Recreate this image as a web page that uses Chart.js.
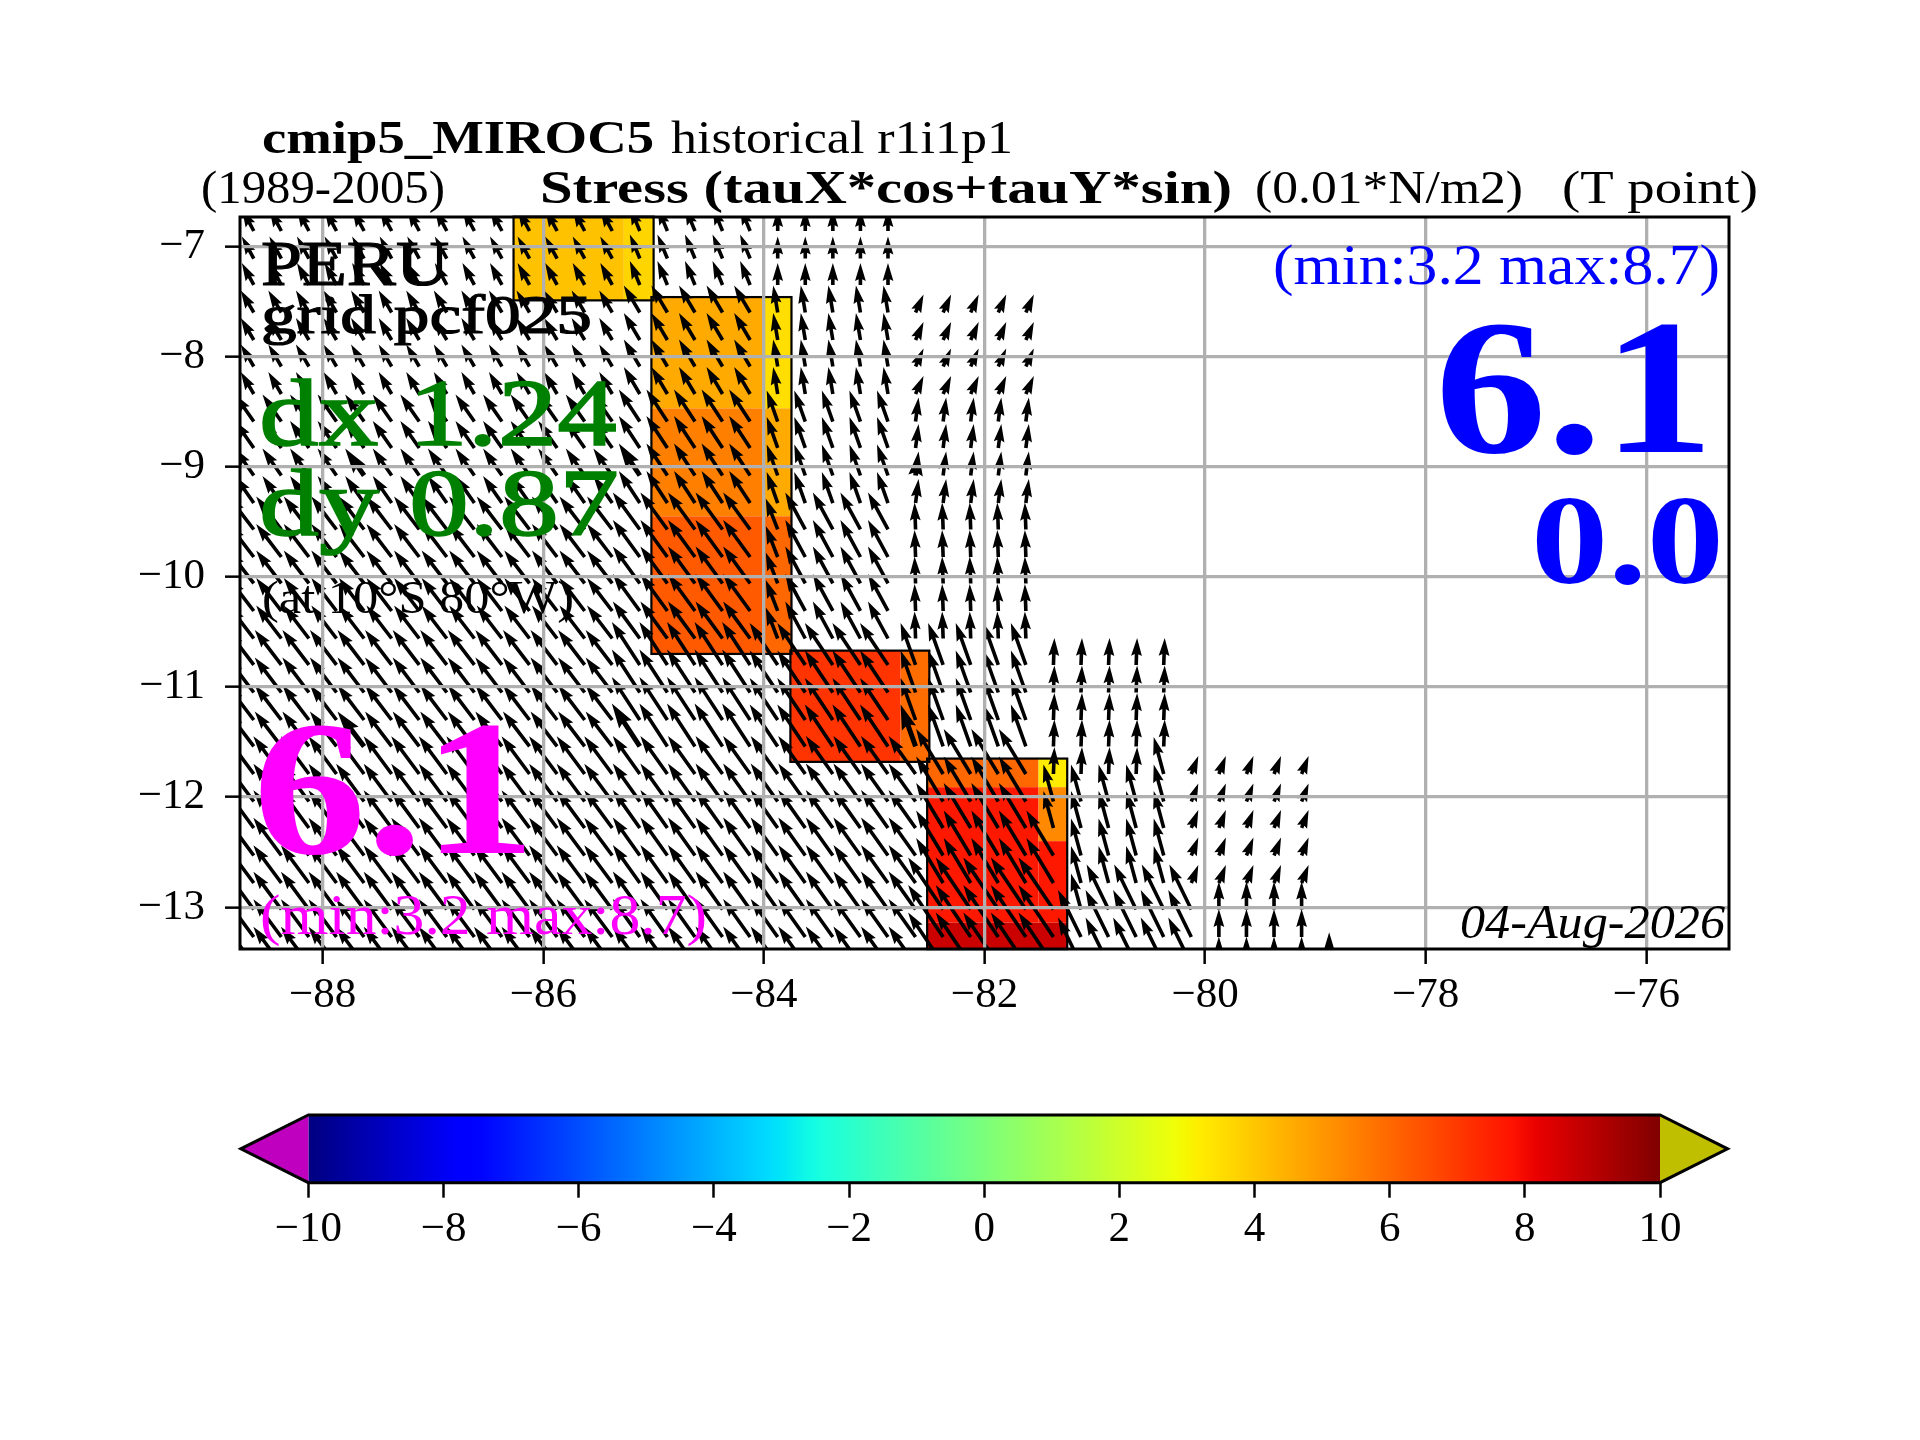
<!DOCTYPE html>
<html>
<head>
<meta charset="utf-8">
<title>Stress map</title>
<script src="https://cdn.jsdelivr.net/npm/chart.js@4/dist/chart.umd.min.js"></script>
<style>
    body { margin: 0; background: #fff; }
    canvas { position: absolute; left: 0; display: block; }
    #map { top: 0; }
    #bar { top: 1080px; }
</style>
</head>
<body>
<canvas id="map" width="1920" height="1080"></canvas>
<canvas id="bar" width="1920" height="200"></canvas>
<script>
const xTickValues = [-88, -86, -84, -82, -80, -78, -76];
const yTickValues = [-13, -12, -11, -10, -9, -8, -7];
const barTickValues = [-10, -8, -6, -4, -2, 0, 2, 4, 6, 8, 10];

// quiver grid
const lonGrid = [-88.625, -88.375, -88.125, -87.875, -87.625, -87.375, -87.125, -86.875, -86.625, -86.375,
    -86.125, -85.875, -85.625, -85.375, -85.125, -84.875, -84.625, -84.375, -84.125, -83.875,
    -83.625, -83.375, -83.125, -82.875, -82.625, -82.375, -82.125, -81.875, -81.625, -81.375,
    -81.125, -80.875, -80.625, -80.375, -80.125, -79.875, -79.625, -79.375, -79.125, -78.875];
const latGrid = [-6.86, -7.11, -7.35, -7.60, -7.85, -8.09, -8.34, -8.59, -8.83, -9.08,
    -9.33, -9.57, -9.82, -10.06, -10.31, -10.56, -10.80, -11.05, -11.30, -11.54,
    -11.79, -12.04, -12.28, -12.53, -12.78, -13.02, -13.27, -13.52];

// stress vectors per model cell: lonW, lonE, latN, latS, u, v (later rows win)
const stressCells = [
    [-89, -85.25, -6.7, -7.48, -1.71, 3.14],
    [-89, -85.25, -7.48, -8.46, -1.86, 3.14],
    [-89, -85.25, -8.46, -9.45, -2.7, 3.86],
    [-89, -85.25, -9.45, -10.68, -3.6, 4.7],
    [-89, -85.25, -10.68, -11.67, -3.8, 5.0],
    [-89, -85.25, -11.67, -14, -4.0, 5.4],
    [-85.25, -84, -6.7, -7.48, -1.43, 3.43],
    [-85.25, -84, -7.48, -8.46, -2.29, 3.86],
    [-85.25, -84, -8.46, -9.45, -3.0, 4.57],
    [-85.25, -84, -9.45, -10.68, -3.86, 5.29],
    [-85.25, -84, -10.68, -11.67, -4.0, 6.14],
    [-85.25, -82.5, -11.67, -14, -3.86, 5.43],
    [-84, -82.75, -6.7, -7.48, 0, 3.14],
    [-84, -82.75, -7.48, -8.46, -0.64, 3.86],
    [-84, -82.75, -8.46, -9.45, -1.57, 4.43],
    [-84, -82.75, -9.45, -10.68, -2.86, 5.29],
    [-84, -83.75, -9.45, -10.68, -1.71, 4.43],
    [-84, -82.75, -10.68, -11.67, -4.0, 6.0],
    [-82.75, -81.5, -7.48, -8.46, 1.14, 2.57],
    [-82.75, -81.5, -8.46, -9.45, 0.43, 3.43],
    [-82.75, -81.5, -9.45, -10.68, -0.14, 3.86],
    [-82.75, -81.5, -10.68, -11.67, -2.14, 6.0],
    [-82.5, -81.25, -11.67, -12.9, -3.86, 6.43],
    [-81.5, -81.25, -11.67, -11.92, 0.14, 3.86],
    [-81.5, -81.25, -11.92, -12.4, -1.43, 5.29],
    [-82.5, -81.25, -12.9, -14, -5.0, 7.43],
    [-81.5, -80.25, -10.68, -11.92, 0.14, 3.86],
    [-80.5, -80.25, -11.67, -11.92, -1.43, 5.29],
    [-81.25, -80.25, -11.92, -12.9, -1.43, 5.29],
    [-81.25, -81, -12.9, -13.15, -1.43, 5.14],
    [-81, -80, -12.9, -13.15, -3.14, 6.43],
    [-81.25, -80, -13.15, -14, -3.29, 6.71],
    [-80.25, -79, -11.67, -12.9, 1.0, 2.57],
    [-80, -79, -12.9, -14, 0, 4.0],
    [-79, -78.75, -13.4, -14, 0, 4.6]
];

// the darker arrows of the picture
const heavyLons = [-87.625, -85.125, -82.625];
const heavyLats = [-9.08, -11.54];

// coloured mesh cells
const meshLonW = [-86.27, -85.27, -85.02, -85.02, -85.02, -84.0, -84.0, -84.0, -83.76, -82.76,
    -82.52, -81.51, -82.52, -81.51, -81.51, -82.52];
const meshLonE = [-85.27, -85.0, -84.0, -84.0, -84.0, -83.75, -83.75, -83.75, -82.76, -82.5,
    -81.51, -81.25, -81.51, -81.25, -81.25, -81.25];
const meshLatN = [-6.73, -6.73, -7.46, -8.47, -9.45, -7.46, -8.47, -9.45, -10.67, -10.67,
    -11.65, -11.65, -11.91, -11.91, -12.4, -13.14];
const meshLatS = [-7.49, -7.49, -8.47, -9.45, -10.7, -8.47, -9.45, -10.7, -11.68, -11.68,
    -11.91, -11.91, -13.14, -12.4, -13.14, -13.38];
const meshValues = [4.1, 3.7, 4.6, 5.5, 6.3, 3.5, 4.6, 6.0, 7.1, 5.9,
    6.0, 3.2, 7.7, 5.3, 7.7, 8.7];

// outlines of the mesh groups: lonW, lonE, latN, latS
const meshOutlines = [
    [-86.27, -85.0, -6.73, -7.49],
    [-85.02, -83.75, -7.46, -10.7],
    [-83.76, -82.5, -10.67, -11.68],
    [-82.52, -81.25, -11.65, -13.38]
];

// jet colormap stops
const jetR = [[0, 0], [0.35, 0], [0.66, 1], [0.89, 1], [1, 0.5]];
const jetG = [[0, 0], [0.125, 0], [0.375, 1], [0.64, 1], [0.91, 0], [1, 0]];
const jetB = [[0, 0.5], [0.11, 1], [0.34, 1], [0.65, 0], [1, 0]];

const SERIF = '"Liberation Serif"';
const annotations = [
    { text: 'cmip5_MIROC5', x: 262, y: 153, width: 392, font: 'bold 47px ' + SERIF, color: '#000' },
    { text: 'historical r1i1p1', x: 671, y: 153, width: 342, font: '47px ' + SERIF, color: '#000' },
    { text: '(1989-2005)', x: 201, y: 203, width: 244, font: '47px ' + SERIF, color: '#000' },
    { text: 'Stress (tauX*cos+tauY*sin)', x: 540, y: 203, width: 692, font: 'bold 47px ' + SERIF, color: '#000' },
    { text: '(0.01*N/m2)', x: 1255, y: 203, width: 268, font: '47px ' + SERIF, color: '#000' },
    { text: '(T point)', x: 1562, y: 203, width: 196, font: '47px ' + SERIF, color: '#000' },
    { text: 'PERU', x: 261, y: 285, width: 188, font: '64px ' + SERIF, color: '#000', stroke: 1.2 },
    { text: 'grid pcf025', x: 261, y: 333, width: 331, font: '55px ' + SERIF, color: '#000', stroke: 1.2 },
    { text: 'dx 1.24', x: 259, y: 445, width: 358, font: '95px ' + SERIF, color: '#008000', stroke: 1.5 },
    { text: 'dy 0.87', x: 259, y: 535, width: 360, font: '95px ' + SERIF, color: '#008000', stroke: 1.5 },
    { text: '(at 10°S 80°W)', x: 262, y: 613, width: 312, font: '47px ' + SERIF, color: '#000' },
    { text: '6.1', x: 253, y: 853, width: 283, font: 'bold 192px ' + SERIF, color: '#ff00ff' },
    { text: '(min:3.2 max:8.7)', x: 260, y: 934, width: 447, font: '58px ' + SERIF, color: '#ff00ff' },
    { text: '(min:3.2 max:8.7)', x: 1273, y: 284, width: 447, font: '58px ' + SERIF, color: '#0000ff' },
    { text: '6.1', x: 1435, y: 452, width: 279, font: 'bold 192px ' + SERIF, color: '#0000ff' },
    { text: '0.0', x: 1531, y: 583, width: 193, font: 'bold 127px ' + SERIF, color: '#0000ff' },
    { text: '04-Aug-2026', x: 1460, y: 938, width: 265, font: 'italic 48px ' + SERIF, color: '#000' }
];

const PX_PER_UNIT = 7;
const SHAFT = 3.6;
const HEAVY_SHAFT = 5;

function piecewise(stops, t) {
    for (let i = 1; i < stops.length; i++) {
        if (t <= stops[i][0]) {
            const a = stops[i - 1], b = stops[i];
            return a[1] + (b[1] - a[1]) * (t - a[0]) / (b[0] - a[0]);
        }
    }
    return stops[stops.length - 1][1];
}

function jetColor(value) {
    const t = Math.min(1, Math.max(0, (value + 10) / 20));
    const c = [jetR, jetG, jetB].map(s => Math.round(piecewise(s, t) * 255));
    return `rgb(${c[0]},${c[1]},${c[2]})`;
}

function findStress(lon, lat) {
    let found = null;
    stressCells.forEach(c => {
        if (lon >= c[0] && lon < c[1] && lat <= c[2] && lat > c[3]) found = c;
    });
    return found;
}

const quiverPoints = [];
latGrid.forEach(lat => {
    lonGrid.forEach(lon => {
        const c = findStress(lon, lat);
        if (c) quiverPoints.push({ x: lon, y: lat, u: c[4], v: c[5], heavy: heavyLons.includes(lon) && heavyLats.includes(lat) });
    });
});

function drawArrow(ctx, x, y, dx, dy, w) {
    const len = Math.hypot(dx, dy);
    const f = Math.min(1, len / (5 * w));
    const hl = 5 * w * f, ha = 4.5 * w * f, hw = 1.5 * w * f, sw = w / 2 * f;
    ctx.save();
    ctx.translate(x, y);
    ctx.rotate(Math.atan2(dy, dx));
    ctx.beginPath();
    ctx.moveTo(0, -sw);
    ctx.lineTo(len - ha, -sw);
    ctx.lineTo(len - hl, -hw);
    ctx.lineTo(len, 0);
    ctx.lineTo(len - hl, hw);
    ctx.lineTo(len - ha, sw);
    ctx.lineTo(0, sw);
    ctx.closePath();
    ctx.fill();
    ctx.restore();
}

const meshPlugin = {
    id: 'mesh',
    beforeDatasetsDraw(chart) {
        const { ctx, scales: { x, y } } = chart;
        meshValues.forEach((value, i) => {
            const x0 = x.getPixelForValue(meshLonW[i]), x1 = x.getPixelForValue(meshLonE[i]);
            const y0 = y.getPixelForValue(meshLatN[i]), y1 = y.getPixelForValue(meshLatS[i]);
            ctx.fillStyle = jetColor(value);
            ctx.fillRect(x0, y0, x1 - x0, y1 - y0);
        });
        ctx.strokeStyle = '#000';
        ctx.lineWidth = 2.2;
        meshOutlines.forEach(b => {
            const x0 = x.getPixelForValue(b[0]), x1 = x.getPixelForValue(b[1]);
            const y0 = y.getPixelForValue(b[2]), y1 = y.getPixelForValue(b[3]);
            ctx.strokeRect(x0, y0, x1 - x0, y1 - y0);
        });
    }
};

const quiverPlugin = {
    id: 'quiver',
    afterDatasetsDraw(chart) {
        const { ctx, chartArea: area } = chart;
        const meta = chart.getDatasetMeta(0);
        ctx.save();
        ctx.beginPath();
        ctx.rect(area.left, area.top, area.right - area.left, area.bottom - area.top);
        ctx.clip();
        ctx.fillStyle = '#000';
        meta.data.forEach((el, i) => {
            const p = quiverPoints[i];
            drawArrow(ctx, el.x, el.y, p.u * PX_PER_UNIT, -p.v * PX_PER_UNIT, p.heavy ? HEAVY_SHAFT : SHAFT);
        });
        ctx.restore();
    }
};

const framePlugin = {
    id: 'frame',
    afterDraw(chart) {
        const { ctx, chartArea: area } = chart;
        ctx.save();
        ctx.strokeStyle = '#000';
        ctx.lineWidth = 3;
        ctx.strokeRect(area.left, area.top, area.right - area.left, area.bottom - area.top);
        ctx.textBaseline = 'alphabetic';
        ctx.textAlign = 'left';
        annotations.forEach(a => {
            ctx.save();
            ctx.font = a.font;
            ctx.fillStyle = a.color;
            ctx.translate(a.x, a.y);
            ctx.scale(a.width / ctx.measureText(a.text).width, 1);
            ctx.fillText(a.text, 0, 0);
            if (a.stroke) {
                ctx.strokeStyle = a.color;
                ctx.lineWidth = a.stroke;
                ctx.strokeText(a.text, 0, 0);
            }
            ctx.restore();
        });
        ctx.restore();
    }
};

const tickLabel = v => String(v).replace('-', '\u2212');

new Chart(document.getElementById('map'), {
    type: 'scatter',
    data: { datasets: [{ data: quiverPoints, pointRadius: 0, pointHoverRadius: 0 }] },
    options: {
        responsive: false,
        animation: false,
        devicePixelRatio: 1,
        layout: { padding: { left: 140, right: 191, top: 217, bottom: 61 } },
        plugins: { legend: { display: false }, tooltip: { enabled: false } },
        scales: {
            x: {
                type: 'linear',
                min: -88.75,
                max: -75.25,
                afterBuildTicks: s => { s.ticks = xTickValues.map(v => ({ value: v })); },
                afterFit: s => { s.height = 70; },
                grid: { color: '#b0b0b0', lineWidth: 3.3, z: 1, tickLength: 15, tickWidth: 2.5, tickColor: '#000' },
                border: { display: false },
                ticks: { font: { family: 'Liberation Serif', size: 43 }, color: '#000', padding: 6, maxRotation: 0, autoSkip: false, callback: tickLabel }
            },
            y: {
                type: 'linear',
                min: -13.379,
                max: -6.733,
                afterBuildTicks: s => { s.ticks = yTickValues.map(v => ({ value: v })); },
                afterFit: s => { s.width = 100; },
                grid: { color: '#b0b0b0', lineWidth: 3.3, z: 1, tickLength: 15, tickWidth: 2.5, tickColor: '#000' },
                border: { display: false },
                ticks: { font: { family: 'Liberation Serif', size: 43 }, color: '#000', padding: 20, autoSkip: false, callback: tickLabel }
            }
        }
    },
    plugins: [meshPlugin, quiverPlugin, framePlugin]
});

const colorbarPlugin = {
    id: 'colorbar',
    beforeDatasetsDraw(chart) {
        const { ctx, chartArea: area, scales: { x } } = chart;
        const left = x.getPixelForValue(-10), right = x.getPixelForValue(10);
        const tipL = x.getPixelForValue(-11), tipR = x.getPixelForValue(11);
        const mid = (area.top + area.bottom) / 2;
        const gradient = ctx.createLinearGradient(left, 0, right, 0);
        const stops = 100;
        for (let i = 0; i <= stops; i++) {
            gradient.addColorStop(i / stops, jetColor(-10 + 20 * i / stops));
        }
        ctx.fillStyle = gradient;
        ctx.fillRect(left, area.top, right - left, area.bottom - area.top);
        ctx.fillStyle = '#bf00bf';
        ctx.beginPath();
        ctx.moveTo(left, area.top);
        ctx.lineTo(tipL, mid);
        ctx.lineTo(left, area.bottom);
        ctx.closePath();
        ctx.fill();
        ctx.fillStyle = '#bfbf00';
        ctx.beginPath();
        ctx.moveTo(right, area.top);
        ctx.lineTo(tipR, mid);
        ctx.lineTo(right, area.bottom);
        ctx.closePath();
        ctx.fill();
        ctx.strokeStyle = '#000';
        ctx.lineWidth = 3;
        ctx.beginPath();
        ctx.moveTo(left, area.top);
        ctx.lineTo(right, area.top);
        ctx.lineTo(tipR, mid);
        ctx.lineTo(right, area.bottom);
        ctx.lineTo(left, area.bottom);
        ctx.lineTo(tipL, mid);
        ctx.closePath();
        ctx.stroke();
    }
};

new Chart(document.getElementById('bar'), {
    type: 'scatter',
    data: { datasets: [{ data: [], pointRadius: 0 }] },
    options: {
        responsive: false,
        animation: false,
        devicePixelRatio: 1,
        layout: { padding: { left: 308.4, right: 260, top: 35, bottom: 27.3 } },
        plugins: { legend: { display: false }, tooltip: { enabled: false } },
        scales: {
            x: {
                type: 'linear',
                min: -10,
                max: 10,
                afterBuildTicks: s => { s.ticks = barTickValues.map(v => ({ value: v })); },
                afterFit: s => { s.height = 70; },
                grid: { drawOnChartArea: false, tickLength: 15, tickWidth: 2.5, tickColor: '#000' },
                border: { display: false },
                ticks: { font: { family: 'Liberation Serif', size: 43 }, color: '#000', padding: 6, maxRotation: 0, autoSkip: false, callback: tickLabel }
            },
            y: { display: false, min: 0, max: 1 }
        }
    },
    plugins: [colorbarPlugin]
});
</script>
</body>
</html>
